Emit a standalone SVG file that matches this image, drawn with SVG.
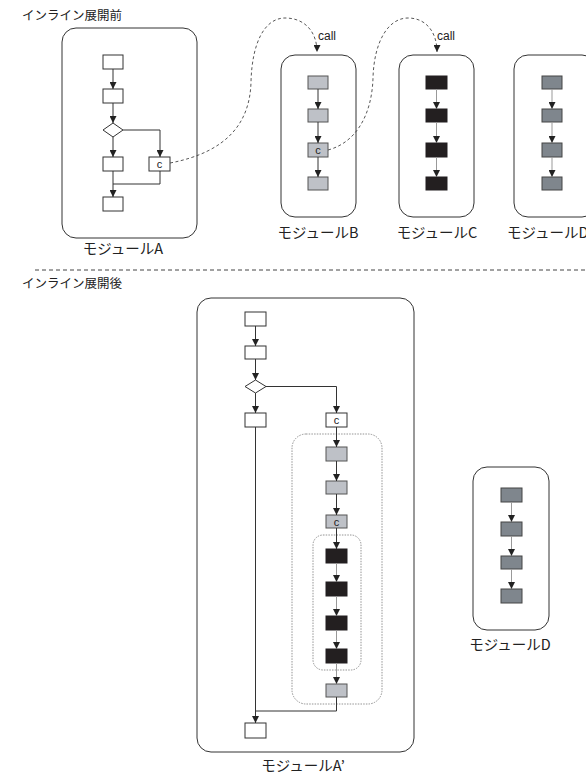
<svg xmlns="http://www.w3.org/2000/svg" width="586" height="776" viewBox="0 0 586 776">
<defs>
<marker id="ah" markerUnits="userSpaceOnUse" markerWidth="7" markerHeight="7" refX="7" refY="3.5" orient="auto"><path d="M0,0 L7,3.5 L0,7 z" fill="#222"/></marker>
<style>
.mod{fill:#fff;stroke:#333;stroke-width:1}
.w{fill:#fff;stroke:#333;stroke-width:1}
.lg{fill:#bec1c7;stroke:#555;stroke-width:1}
.dg{fill:#7f868d;stroke:#444;stroke-width:1}
.bk{fill:#231f20;stroke:#231f20;stroke-width:1}
.ln{fill:none;stroke:#333;stroke-width:1}
.lnG{fill:none;stroke:#999;stroke-width:1}
.ar{marker-end:url(#ah)}
.dash{fill:none;stroke:#444;stroke-width:0.9;stroke-dasharray:3 2.5}
.dot{fill:none;stroke:#888;stroke-width:0.9;stroke-dasharray:1.5 1.2}
.jp{font-family:"Noto Sans CJK JP","Noto Sans",sans-serif;fill:#222}
.t{font-family:"Liberation Sans",Arial,sans-serif;fill:#222}
</style>
</defs>
<text class="jp" x="22" y="20" font-size="12.5">インライン展開前</text>
<text class="jp" x="22" y="288" font-size="12.5">インライン展開後</text>
<line x1="35" y1="270" x2="586" y2="270" stroke="#444" stroke-width="1" stroke-dasharray="4 3"/>

<g id="moduleA">
<rect class="mod" x="62" y="28" width="135" height="210" rx="14"/>
<rect class="w" x="103" y="55" width="20" height="14"/>
<rect class="w" x="103" y="89" width="20" height="14"/>
<polygon class="w" points="103,130 113,123 123,130 113,137"/>
<rect class="w" x="103" y="157" width="20" height="14"/>
<rect class="w" x="149" y="157" width="21" height="14"/>
<text class="t" x="159.5" y="168" font-size="11" text-anchor="middle">c</text>
<rect class="w" x="103" y="197" width="20" height="14"/>
<text class="jp" x="123" y="254" font-size="14.5" text-anchor="middle">モジュールA</text>
</g>

<g id="moduleB">
<rect class="mod" x="281" y="55" width="75" height="162" rx="14"/>
<rect class="lg" x="308" y="76" width="20" height="13"/>
<rect class="lg" x="308" y="109" width="20" height="13"/>
<rect class="lg" x="308" y="143" width="20" height="14"/>
<text class="t" x="318" y="154" font-size="11" text-anchor="middle">c</text>
<rect class="lg" x="308" y="177" width="20" height="13"/>
<text class="jp" x="318" y="238" font-size="14.5" text-anchor="middle">モジュールB</text>
</g>

<g id="moduleC">
<rect class="mod" x="399" y="55" width="75" height="162" rx="14"/>
<rect class="bk" x="426" y="76" width="21" height="13"/>
<rect class="bk" x="426" y="109" width="21" height="13"/>
<rect class="bk" x="426" y="143" width="21" height="14"/>
<rect class="bk" x="426" y="177" width="21" height="13"/>
<text class="jp" x="437" y="238" font-size="14.5" text-anchor="middle">モジュールC</text>
</g>

<g id="moduleD">
<rect class="mod" x="514" y="55" width="82" height="162" rx="14"/>
<rect class="dg" x="542" y="76" width="20" height="13"/>
<rect class="dg" x="542" y="109" width="20" height="13"/>
<rect class="dg" x="542" y="143" width="20" height="14"/>
<rect class="dg" x="542" y="177" width="20" height="13"/>
<text class="jp" x="507" y="238" font-size="14.5">モジュールD</text>
</g>

<g id="moduleA2">
<rect class="mod" x="197" y="298" width="217" height="454" rx="14"/>
<rect class="w" x="245" y="312" width="21" height="14"/>
<rect class="w" x="245" y="346" width="21" height="13"/>
<polygon class="w" points="245,386.5 255.5,380 266,386.5 255.5,393"/>
<rect class="w" x="245" y="413" width="21" height="14"/>
<rect class="w" x="326" y="413" width="21" height="14"/>
<text class="t" x="336.5" y="424" font-size="11" text-anchor="middle">c</text>
<rect class="dot" x="292" y="434" width="90" height="270" rx="14"/>
<rect class="lg" x="326" y="447" width="21" height="14"/>
<rect class="lg" x="326" y="481" width="21" height="13"/>
<rect class="lg" x="326" y="515" width="21" height="13"/>
<text class="t" x="336.5" y="525.5" font-size="11" text-anchor="middle">c</text>
<rect class="dot" x="313" y="535" width="48" height="135" rx="10"/>
<rect class="bk" x="326" y="549" width="21" height="14"/>
<rect class="bk" x="326" y="582" width="21" height="14"/>
<rect class="bk" x="326" y="616" width="21" height="14"/>
<rect class="bk" x="326" y="649" width="21" height="14"/>
<rect class="lg" x="326" y="684" width="21" height="13"/>
<rect class="w" x="245" y="723" width="21" height="15"/>
<text class="jp" x="303" y="771" font-size="14.5" text-anchor="middle">モジュールA’</text>
</g>

<g id="moduleD2">
<rect class="mod" x="473" y="467" width="76" height="163" rx="14"/>
<rect class="dg" x="501" y="488" width="21" height="14"/>
<rect class="dg" x="501" y="522" width="21" height="14"/>
<rect class="dg" x="501" y="556" width="21" height="13"/>
<rect class="dg" x="501" y="589" width="21" height="14"/>
<text class="jp" x="510" y="650" font-size="14.5" text-anchor="middle">モジュールD</text>
</g>

<g id="connectors">
<line class="ln ar" x1="113" y1="69" x2="113" y2="89"/>
<line class="ln ar" x1="113" y1="103" x2="113" y2="123"/>
<line class="ln ar" x1="113" y1="137" x2="113" y2="157"/>
<path class="ln ar" d="M123,130 H160 V157"/>
<line class="ln ar" x1="113" y1="171" x2="113" y2="197"/>
<path class="ln" d="M160,171 V184 H113"/>
<line class="ln ar" x1="318" y1="89" x2="318" y2="109"/>
<line class="ln ar" x1="318" y1="122" x2="318" y2="143"/>
<line class="ln ar" x1="318" y1="157" x2="318" y2="177"/>
<line class="lnG ar" x1="436.5" y1="89" x2="436.5" y2="109"/>
<line class="lnG ar" x1="436.5" y1="122" x2="436.5" y2="143"/>
<line class="lnG ar" x1="436.5" y1="157" x2="436.5" y2="177"/>
<line class="lnG ar" x1="552" y1="89" x2="552" y2="109"/>
<line class="lnG ar" x1="552" y1="122" x2="552" y2="143"/>
<line class="lnG ar" x1="552" y1="157" x2="552" y2="177"/>
<path class="dash ar" d="M170,163 C228,152 250,122 251,82 C252,42 265,18 285,18 C305,18 317,32 317,52"/>
<text class="t" x="318" y="40" font-size="12">call</text>
<path class="dash ar" d="M328,150 C358,142 372,112 373,78 C374,42 388,18 408,18 C426,18 437,32 437,52"/>
<text class="t" x="437" y="40" font-size="12">call</text>
<line class="ln ar" x1="255.5" y1="326" x2="255.5" y2="346"/>
<line class="ln ar" x1="255.5" y1="359" x2="255.5" y2="380"/>
<line class="ln ar" x1="255.5" y1="393" x2="255.5" y2="413"/>
<path class="ln ar" d="M266,386.5 H336.5 V413"/>
<line class="ln ar" x1="336.5" y1="427" x2="336.5" y2="447"/>
<line class="ln ar" x1="336.5" y1="461" x2="336.5" y2="481"/>
<line class="ln ar" x1="336.5" y1="494" x2="336.5" y2="515"/>
<line class="ln ar" x1="336.5" y1="528" x2="336.5" y2="549"/>
<line class="lnG ar" x1="336.5" y1="563" x2="336.5" y2="582"/>
<line class="lnG ar" x1="336.5" y1="596" x2="336.5" y2="616"/>
<line class="lnG ar" x1="336.5" y1="630" x2="336.5" y2="649"/>
<line class="lnG ar" x1="336.5" y1="663" x2="336.5" y2="684"/>
<line class="ln ar" x1="255.5" y1="427" x2="255.5" y2="723"/>
<path class="ln" d="M336.5,697 V711 H255.5"/>
<line class="lnG ar" x1="511.5" y1="502" x2="511.5" y2="522"/>
<line class="lnG ar" x1="511.5" y1="536" x2="511.5" y2="556"/>
<line class="lnG ar" x1="511.5" y1="569" x2="511.5" y2="589"/>
</g>
</svg>
